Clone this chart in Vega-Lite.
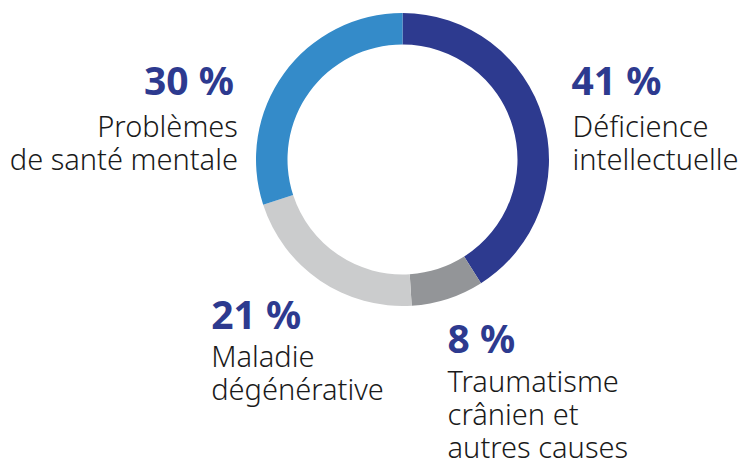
{
  "$schema": "https://vega.github.io/schema/vega-lite/v6.json",
  "width": 293,
  "height": 293,
  "autosize": {"type": "none"},
  "padding": {"left": 256, "top": 13, "right": 192, "bottom": 158},
  "background": "white",
  "config": {"view": {"stroke": null}},
  "data": {
    "values": [
      {"rang": 1, "categorie": "Déficience intellectuelle", "valeur": 41, "pct": "41 %", "libelle": "Déficience\nintellectuelle"},
      {"rang": 2, "categorie": "Traumatisme crânien et autres causes", "valeur": 8, "pct": "8 %", "libelle": "Traumatisme\ncrânien et\nautres causes"},
      {"rang": 3, "categorie": "Maladie dégénérative", "valeur": 21, "pct": "21 %", "libelle": "Maladie\ndégénérative"},
      {"rang": 4, "categorie": "Problèmes de santé mentale", "valeur": 30, "pct": "30 %", "libelle": "Problèmes\nde santé mentale"}
    ]
  },
  "encoding": {
    "theta": {"field": "valeur", "type": "quantitative", "stack": true},
    "order": {"field": "rang", "type": "quantitative"}
  },
  "layer": [
    {
      "mark": {"type": "arc", "outerRadius": 146.5, "innerRadius": 115},
      "encoding": {
        "color": {
          "field": "categorie",
          "type": "nominal",
          "scale": {
            "domain": ["Déficience intellectuelle", "Traumatisme crânien et autres causes", "Maladie dégénérative", "Problèmes de santé mentale"],
            "range": ["#2d3a8f", "#939598", "#cbcccd", "#348bc9"]
          },
          "legend": null
        }
      }
    },
    {
      "mark": {"type": "text", "radius": 175, "align": "left", "baseline": "alphabetic", "dx": 1, "dy": -16, "font": "Noto Sans", "fontSize": 39, "fontWeight": 700, "color": "#2d3a8f"},
      "encoding": {"text": {"condition": {"test": "datum.rang === 1", "field": "pct"}, "value": ""}}
    },
    {
      "mark": {"type": "text", "radius": 175, "align": "left", "baseline": "alphabetic", "dx": 2, "dy": 26, "lineBreak": "\n", "lineHeight": 33, "font": "Noto Sans", "fontSize": 29, "fontWeight": 300, "color": "#1a1a1a"},
      "encoding": {"text": {"condition": {"test": "datum.rang === 1", "field": "libelle"}, "value": ""}}
    },
    {
      "mark": {"type": "text", "radius": 175, "align": "left", "baseline": "alphabetic", "dx": -9, "dy": 27, "font": "Noto Sans", "fontSize": 39, "fontWeight": 700, "color": "#2d3a8f"},
      "encoding": {"text": {"condition": {"test": "datum.rang === 2", "field": "pct"}, "value": ""}}
    },
    {
      "mark": {"type": "text", "radius": 175, "align": "left", "baseline": "alphabetic", "dx": -9, "dy": 66, "lineBreak": "\n", "lineHeight": 33, "font": "Noto Sans", "fontSize": 29, "fontWeight": 300, "color": "#1a1a1a"},
      "encoding": {"text": {"condition": {"test": "datum.rang === 2", "field": "libelle"}, "value": ""}}
    },
    {
      "mark": {"type": "text", "radius": 175, "align": "left", "baseline": "alphabetic", "dx": -93, "dy": 25, "font": "Noto Sans", "fontSize": 39, "fontWeight": 700, "color": "#2d3a8f"},
      "encoding": {"text": {"condition": {"test": "datum.rang === 3", "field": "pct"}, "value": ""}}
    },
    {
      "mark": {"type": "text", "radius": 175, "align": "left", "baseline": "alphabetic", "dx": -93, "dy": 63, "lineBreak": "\n", "lineHeight": 33, "font": "Noto Sans", "fontSize": 29, "fontWeight": 300, "color": "#1a1a1a"},
      "encoding": {"text": {"condition": {"test": "datum.rang === 3", "field": "libelle"}, "value": ""}}
    },
    {
      "mark": {"type": "text", "radius": 175, "align": "right", "baseline": "alphabetic", "dx": -27, "dy": 38, "font": "Noto Sans", "fontSize": 39, "fontWeight": 700, "color": "#2d3a8f"},
      "encoding": {"text": {"condition": {"test": "datum.rang === 4", "field": "pct"}, "value": ""}}
    },
    {
      "mark": {"type": "text", "radius": 175, "align": "right", "baseline": "alphabetic", "dx": -23, "dy": 80, "lineBreak": "\n", "lineHeight": 33, "font": "Noto Sans", "fontSize": 29, "fontWeight": 300, "color": "#1a1a1a"},
      "encoding": {"text": {"condition": {"test": "datum.rang === 4", "field": "libelle"}, "value": ""}}
    }
  ]
}
